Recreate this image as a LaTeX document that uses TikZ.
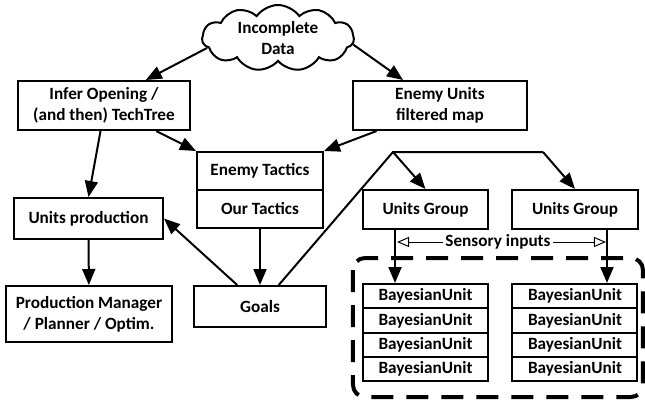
\documentclass[tikz,border=0pt]{standalone}
\usepackage{fontspec}
\setmainfont{Carlito}
\usetikzlibrary{arrows.meta,calc,shapes.symbols}

\tikzset{
	box/.style={draw, line width=1pt, inner sep=1pt, align=center, font=\fontsize{8.6}{10.4}\selectfont\bfseries},
	unitbox/.style={box, minimum width=62.5pt, minimum height=12.1pt},
	arr/.style={line width=1pt, -{Triangle[length=8pt,width=6.5pt]}},
}

\begin{document}
\begin{tikzpicture}[x=0.5pt, y=-0.5pt]
			\useasboundingbox (0,0) rectangle (645,402);
			\node[cloud, draw, line width=1pt, cloud puffs=11, cloud puff arc=110, aspect=2.4,
				minimum width=76pt, minimum height=33pt, inner sep=0pt, align=center,
				font=\fontsize{8.6}{10.4}\selectfont\bfseries] (data) at (278,38) {Incomplete\\Data};
			\node[box, minimum width=86pt, minimum height=24.5pt] (infer) at (104,105.5) {Infer Opening /\\(and then) TechTree};
			\node[box, minimum width=87pt, minimum height=24.5pt] (map) at (440,105.5) {Enemy Units\\filtered map};
			\node[box, minimum width=63pt, minimum height=19pt] (etac) at (260,171) {Enemy Tactics};
			\node[box, minimum width=63pt, minimum height=19pt] (otac) at (260,209) {Our Tactics};
			\node[box, minimum width=74.5pt, minimum height=20.5pt] (prod) at (88.5,218.5) {Units production};
			\node[box, minimum width=83pt, minimum height=28pt] (pm) at (89,314) {Production Manager\\/ Planner / Optim.};
			\node[box, minimum width=66pt, minimum height=20.5pt] (goals) at (260,306.5) {Goals};
			\node[box, minimum width=62.5pt, minimum height=19.5pt] (ug1) at (425.5,209.5) {Units Group};
			\node[box, minimum width=63pt, minimum height=19.5pt] (ug2) at (575,209.5) {Units Group};
			% stacks of bayesian units
			\foreach \i/\y in {1/296.1, 2/320.4, 3/344.6, 4/368.9} {
				\node[unitbox] (l\i) at (425.5,\y) {BayesianUnit};
				\node[unitbox] (r\i) at (575,\y) {BayesianUnit};
			}
			\draw[line width=2pt, rounded corners=6pt, dash pattern=on 11pt off 6.5pt] (353,258) rectangle (643,397);
			%
			\draw[arr] (data.188) -- ($(infer.north west)!0.74!(infer.north east)$);
			\draw[arr] (data.355) -- ($(map.north west)!0.29!(map.north east)$);
			\draw[arr] ($(infer.south west)!0.8!(infer.south east)$) -- (etac.north west);
			\draw[arr] ($(map.south west)!0.14!(map.south east)$) -- (etac.north east);
			\draw[arr] ($(infer.south west)!0.48!(infer.south east)$) -- (prod.north);
			\draw[arr] (prod) -- (pm);
			\draw[arr] (otac) -- (goals);
			\draw[arr] ($(goals.north west)!0.33!(goals.north east)$) -- (prod.east);
			\coordinate (s1) at (393,152);
			\coordinate (s2) at (543,152);
			\draw[line width=1pt] ($(goals.north west)!0.64!(goals.north east)$) -- (s1) -- (s2);
			\draw[arr] (s1) -- (ug1.north);
			\draw[arr] (s2) -- (ug2.north);
			\draw[arr] ($(ug1.south west)!0.26!(ug1.south east)$) coordinate (a1) -- (a1 |- l1.north);
			\draw[arr] ($(ug2.south west)!0.75!(ug2.south east)$) coordinate (a2) -- (a2 |- r1.north);
			% sensory inputs
			\node[font=\fontsize{8.6}{10.4}\selectfont\bfseries, inner sep=1pt] (sens) at (498,242) {Sensory inputs};
			\draw[line width=0.5pt, -{Triangle[open, length=6pt, width=5pt]}] (sens.west) -- ($(a1 |- sens)+(2,0)$);
			\draw[line width=0.5pt, -{Triangle[open, length=6pt, width=5pt]}] (sens.east) -- ($(a2 |- sens)+(-1,0)$);
\end{tikzpicture}
\end{document}
